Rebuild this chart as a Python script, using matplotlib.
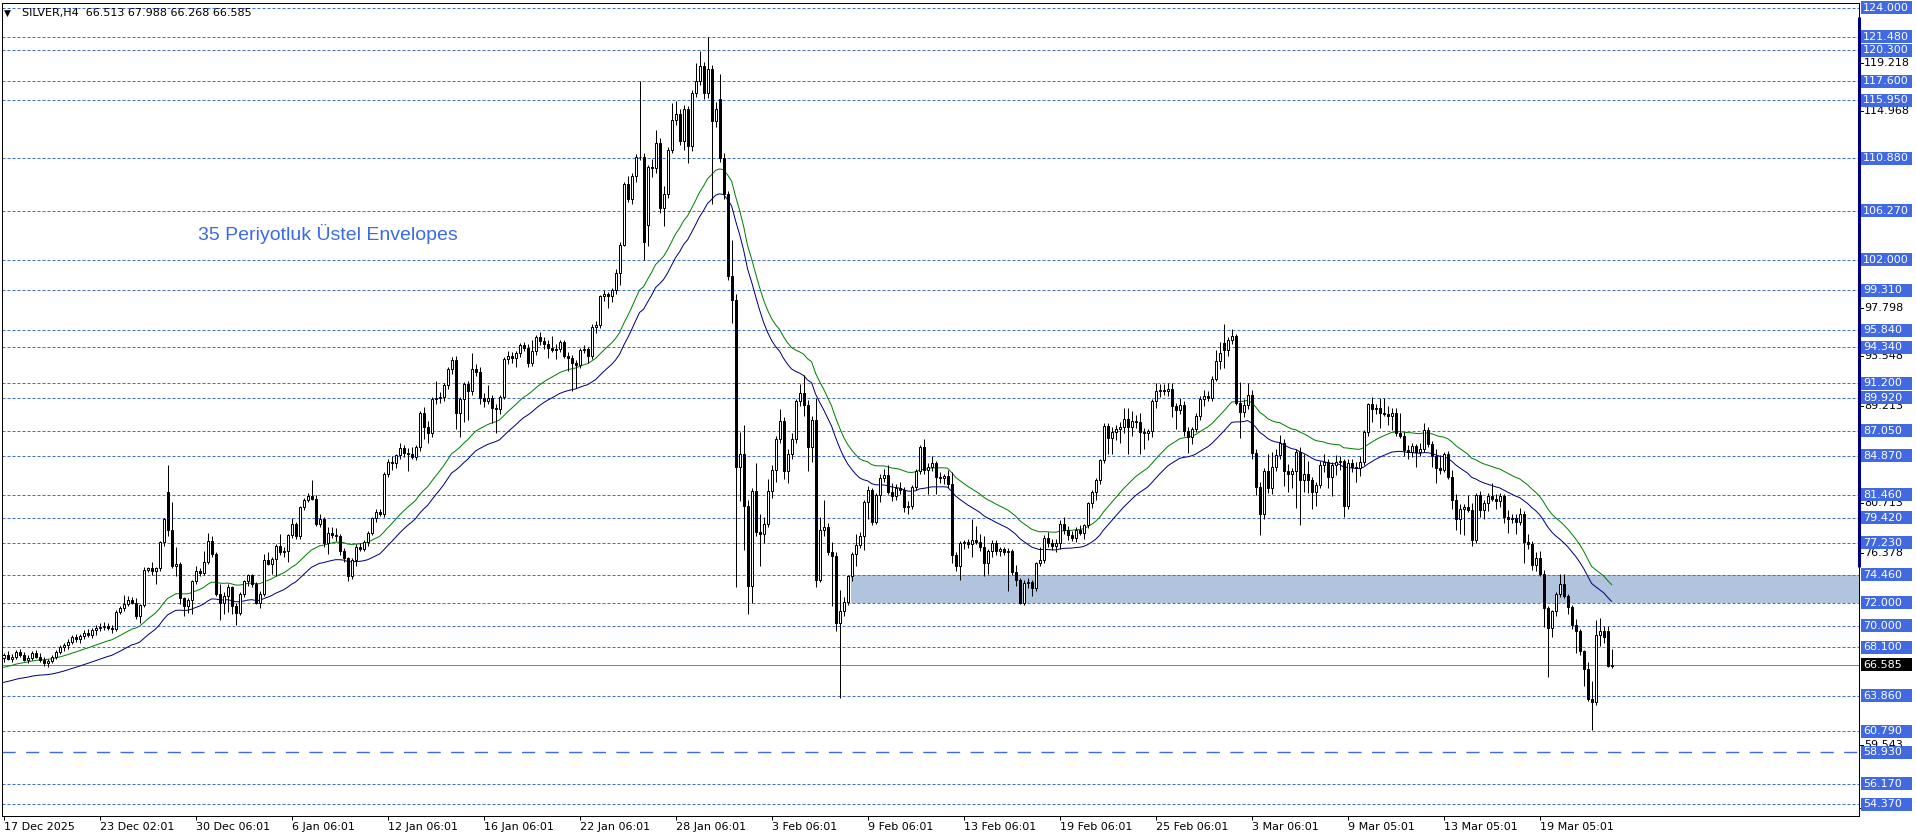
import numpy as np
import matplotlib
matplotlib.use('Agg')
from matplotlib import pyplot as plt
from matplotlib.patches import Rectangle
import matplotlib.transforms as mtransforms

plt.rcParams['font.family'] = ['DejaVu Sans']

# ---- H4 bars (index 0 = 17 Dec 2025) ----
opens = [
    67.2, 67.4, 67.1, 67.3, 67.7, 67.4, 67.0, 67.2, 67.6, 67.3,
    67.0, 66.7, 66.9, 67.3, 67.7, 68.1, 68.3, 68.6, 69.0, 68.8,
    69.1, 69.4, 69.2, 69.6, 69.8, 69.9, 70.0, 69.8, 69.7, 71.2,
    71.5, 71.9, 72.2, 72.0, 70.8, 71.8, 74.9, 75.0, 74.8, 75.0,
    77.3, 81.7, 78.4, 75.2, 75.4, 72.4, 71.7, 72.2, 73.9, 74.8,
    74.6, 75.6, 77.4, 76.3, 72.8, 71.95, 72.6, 73.4, 71.7, 71.1,
    72.8, 73.9, 74.4, 73.6, 72.0, 72.8, 75.7, 75.4, 75.8, 77.0,
    76.4, 76.5, 77.9, 78.9, 77.8, 80.4, 81.0, 81.3, 81.1, 78.9,
    79.3, 77.2, 78.1, 77.9, 77.8, 76.5, 75.9, 74.3, 75.7, 76.9,
    76.7, 77.3, 78.1, 79.4, 79.97, 79.8, 83.3, 84.3, 84.2, 84.9,
    85.5, 85.1, 85.0, 84.7, 85.6, 88.6, 87.4, 86.8, 89.85, 89.9,
    90.0, 91.0, 92.4, 93.2, 88.6, 89.8, 91.1, 90.5, 92.4, 92.2,
    89.9, 89.6, 89.9, 89.05, 88.9, 89.95, 93.3, 93.6, 93.4, 93.8,
    94.5, 94.3, 93.0, 94.0, 95.2, 94.9, 94.6, 94.3, 94.1, 94.2,
    94.8, 93.6, 93.4, 93.0, 92.8, 94.1, 94.2, 93.6, 96.15, 96.3,
    98.8, 99.0, 98.8, 99.3, 100.8, 103.25, 108.6, 107.3, 109.3, 110.95,
    111.0, 105.0, 110.1, 110.0, 112.2, 106.5, 107.7, 111.6, 114.2, 114.7,
    112.4, 115.2, 111.9, 116.6, 117.65, 118.9, 116.6, 118.7, 114.1, 116.0,
    110.9, 107.7, 100.6, 98.5, 83.9, 85.0, 80.5, 73.5, 81.75, 78.2,
    78.0, 78.9, 81.75, 83.6, 86.3, 87.9, 83.5, 85.0, 86.3, 89.6,
    90.3, 89.3, 85.6, 88.0, 74.0, 78.4, 78.6, 76.45, 76.1, 70.2,
    71.3, 72.1, 74.3, 76.3, 77.05, 77.8, 80.8, 81.9, 79.1, 81.4,
    82.9, 83.2, 81.7, 81.3, 82.0, 81.9, 80.4, 80.5, 82.15, 83.5,
    85.6, 83.6, 83.9, 84.2, 83.0, 82.9, 83.1, 82.4, 76.2, 75.2,
    77.2, 77.3, 77.1, 77.5, 77.3, 76.9, 75.5, 76.5, 77.2, 76.5,
    76.7, 76.4, 76.5, 74.7, 74.0, 72.0, 73.7, 73.8, 73.3, 75.45,
    75.7, 77.7, 77.2, 77.0, 77.2, 78.9, 78.4, 77.9, 77.7, 78.4,
    78.1, 78.8, 80.7, 81.7, 82.7, 84.5, 87.45, 86.4, 86.9, 87.2,
    87.4, 88.1, 87.4, 87.9, 87.8, 86.95, 86.8, 87.0, 89.6, 90.5,
    90.6, 90.5, 90.7, 89.2, 88.85, 89.3, 87.0, 86.5, 87.2, 88.3,
    89.8, 90.1, 89.9, 91.6, 93.1, 94.7, 94.1, 95.0, 95.3, 89.5,
    88.7, 89.3, 90.2, 85.06, 82.15, 79.8, 83.5, 82.0, 83.9, 84.9,
    86.0, 83.5, 83.3, 83.5, 85.2, 82.7, 83.3, 82.7, 81.7, 82.3,
    84.0, 84.3, 82.96, 84.0, 84.3, 84.4, 80.5, 84.2, 83.9, 83.8,
    84.3, 86.95, 89.4, 88.9, 89.0, 88.6, 88.5, 88.3, 88.6, 86.8,
    86.6, 85.35, 85.2, 85.7, 85.2, 85.4, 87.1, 85.9, 84.8, 83.75,
    83.6, 85.0, 83.0, 81.0, 79.3, 80.2, 80.4, 80.1, 77.5, 81.4,
    80.1, 80.7, 81.3, 81.1, 80.9, 81.3, 79.5, 79.3, 79.4, 79.1,
    79.8, 77.3, 77.1, 75.3, 75.9, 74.5, 71.5, 69.76, 71.3, 72.8,
    73.6, 72.6, 71.6, 70.05, 69.55, 67.8, 66.2, 63.6, 63.3, 69.2,
    69.5, 69.5, 66.513,
]
highs = [
    67.6, 67.8, 67.5, 67.9, 68.0, 67.7, 67.4, 67.8, 67.9, 67.6,
    67.3, 67.1, 67.4, 67.9, 68.3, 68.5, 68.8, 69.2, 69.3, 69.3,
    69.6, 69.7, 69.8, 70.1, 70.2, 70.3, 70.2, 70.1, 71.4, 71.7,
    72.7, 72.6, 72.5, 72.4, 71.9, 75.1, 75.1, 75.6, 75.1, 77.4,
    79.4, 84.0, 80.8, 76.9, 75.6, 72.5, 72.4, 74.0, 75.2, 75.0,
    76.5, 78.1, 77.8, 76.4, 73.6, 72.9, 73.6, 73.5, 72.0, 72.9,
    74.0, 74.5, 74.5, 73.8, 73.0, 76.3, 76.4, 76.0, 77.1, 78.0,
    76.9, 78.0, 79.4, 79.1, 80.5, 81.2, 81.6, 82.7, 81.4, 79.8,
    79.5, 78.6, 78.6, 78.5, 78.0, 76.8, 76.0, 75.9, 77.1, 77.2,
    77.5, 78.3, 79.5, 80.2, 80.2, 83.4, 84.6, 84.8, 85.0, 86.0,
    85.8, 85.5, 85.6, 85.8, 88.8, 89.1, 87.9, 90.0, 91.4, 90.4,
    91.2, 92.6, 93.5, 93.6, 90.0, 91.3, 91.4, 93.8, 92.9, 92.6,
    90.3, 91.0, 90.2, 89.4, 90.2, 93.5, 94.0, 93.9, 94.0, 94.7,
    94.8, 94.6, 95.0, 95.4, 95.7, 95.2, 95.0, 95.3, 94.6, 95.0,
    95.0, 93.9, 93.7, 93.2, 94.3, 94.5, 94.4, 96.4, 96.6, 98.9,
    99.3, 99.2, 99.5, 101.2, 103.5, 108.8, 109.3, 109.6, 111.2, 117.6,
    111.3, 110.3, 110.8, 113.3, 112.6, 108.4, 111.8, 115.7, 115.9, 115.2,
    115.5, 115.4, 116.8, 119.2, 120.2, 119.3, 121.5, 119.0, 115.8, 118.2,
    111.3, 108.0, 103.7, 99.0, 86.9, 87.5, 81.0, 82.0, 84.2, 79.8,
    79.5, 82.8, 84.0, 86.6, 88.9, 88.2, 85.4, 86.8, 89.8, 91.1,
    91.9, 89.7, 88.3, 89.9, 79.5, 81.0, 79.0, 77.3, 76.4, 73.1,
    72.5, 74.4, 76.4, 78.0, 78.2, 81.0, 82.2, 82.0, 81.6, 83.3,
    83.7, 84.0, 82.5, 82.4, 82.6, 82.1, 80.9, 82.3, 83.7, 85.8,
    86.3, 84.2, 84.8, 84.4, 83.4, 83.3, 83.6, 83.4, 76.4, 77.4,
    77.5, 77.6, 79.3, 78.7, 78.0, 77.8, 76.7, 77.5, 77.5, 76.9,
    76.9, 76.8, 76.7, 75.3, 74.2, 74.0, 74.2, 74.0, 75.6, 76.9,
    77.9, 78.2, 77.6, 77.6, 79.2, 79.5, 78.7, 78.3, 78.6, 78.8,
    78.9, 80.8, 81.9, 82.9, 84.6, 87.7, 87.7, 87.4, 87.5, 87.8,
    89.0, 89.0, 88.8, 88.4, 88.6, 87.3, 87.2, 89.8, 91.2, 91.1,
    91.1, 91.2, 91.2, 89.5, 89.9, 89.6, 87.4, 87.4, 88.6, 90.1,
    90.6, 90.5, 91.8, 94.1, 94.8, 96.4, 95.2, 95.9, 95.5, 91.3,
    89.8, 91.2, 90.6, 85.4, 82.6, 83.8, 85.0, 85.2, 85.4, 86.7,
    86.3, 84.1, 83.8, 85.4, 85.6, 85.0, 84.4, 83.0, 82.6, 84.4,
    85.0, 84.6, 84.3, 84.9, 84.8, 84.6, 84.6, 84.6, 84.3, 84.8,
    87.1, 89.5, 90.0, 89.4, 89.9, 89.9, 89.2, 89.0, 89.0, 88.6,
    86.9, 85.8, 86.0, 85.9, 86.0, 87.7, 87.4, 86.1, 85.4, 84.9,
    85.2, 85.3, 83.6, 81.5, 80.6, 80.6, 81.4, 80.7, 81.6, 81.8,
    81.0, 81.6, 82.5, 81.5, 81.6, 81.5, 80.1, 79.8, 79.8, 80.3,
    80.0, 78.0, 77.4, 76.4, 76.5, 74.9, 71.7, 71.4, 72.9, 74.5,
    74.5, 72.8, 71.8, 70.6, 69.7, 67.9, 66.8, 65.2, 70.5, 70.7,
    70.0, 70.0, 67.988,
]
lows = [
    66.8, 67.0, 66.8, 67.1, 67.3, 66.9, 66.7, 67.0, 67.2, 66.8,
    66.5, 66.4, 66.7, 67.1, 67.5, 67.8, 68.0, 68.4, 68.6, 68.5,
    68.8, 69.0, 68.9, 69.2, 69.5, 69.6, 69.6, 69.4, 69.5, 71.0,
    71.3, 71.7, 71.9, 70.6, 70.2, 71.6, 74.7, 74.4, 73.6, 74.8,
    77.0, 77.8, 75.0, 74.3, 71.9, 70.8, 71.1, 71.0, 73.6, 74.3,
    74.4, 75.4, 76.0, 72.6, 70.5, 71.0, 71.2, 71.0, 70.1, 70.9,
    72.5, 73.5, 73.4, 71.9, 71.5, 72.6, 75.3, 74.5, 74.3, 76.2,
    76.0, 75.6, 77.7, 77.6, 77.6, 80.1, 80.8, 81.0, 78.7, 78.6,
    76.9, 76.3, 77.7, 77.4, 76.2, 75.6, 73.9, 74.1, 75.2, 76.5,
    76.5, 77.0, 77.9, 79.1, 79.6, 79.5, 83.0, 83.6, 83.8, 84.6,
    84.7, 83.5, 84.6, 84.5, 85.3, 86.3, 86.0, 86.5, 89.4, 89.5,
    89.6, 90.7, 92.0, 87.2, 86.5, 87.8, 88.0, 90.2, 91.8, 89.4,
    89.1, 89.4, 87.7, 86.8, 88.5, 89.8, 92.9, 93.0, 92.6, 93.5,
    94.0, 92.6, 92.7, 93.7, 94.5, 94.2, 93.4, 93.9, 93.3, 93.9,
    93.4, 92.3, 90.5, 90.8, 92.5, 93.8, 93.0, 93.3, 95.6, 96.0,
    98.4, 97.8, 98.3, 99.0, 99.8, 103.2, 107.0, 106.9, 108.8, 110.7,
    102.0, 103.2, 109.2, 109.6, 106.1, 104.9, 107.4, 111.3, 113.8, 112.0,
    111.6, 110.4, 111.5, 116.2, 117.3, 116.0, 116.1, 106.9, 113.6, 110.5,
    107.3, 100.2, 96.5, 73.4, 80.9, 76.6, 71.0, 72.0, 77.8, 75.2,
    77.2, 78.6, 81.2, 82.6, 86.0, 82.8, 82.5, 84.6, 86.0, 89.2,
    88.3, 83.5, 84.3, 73.4, 73.8, 77.8, 76.2, 71.7, 69.5, 63.7,
    70.8, 71.8, 73.9, 75.2, 76.8, 76.65, 79.3, 78.8, 78.9, 80.8,
    82.6, 81.5, 80.9, 81.0, 81.5, 79.9, 79.8, 80.2, 81.9, 83.3,
    83.3, 81.5, 83.5, 81.5, 82.5, 82.4, 82.0, 75.5, 74.8, 74.0,
    76.7, 76.8, 76.0, 77.1, 76.5, 74.3, 74.5, 76.0, 76.2, 76.1,
    76.2, 73.0, 74.4, 73.5, 71.9, 71.8, 73.3, 72.6, 73.0, 75.2,
    75.5, 76.9, 76.6, 76.4, 76.7, 78.0, 77.5, 77.4, 77.3, 77.9,
    77.6, 78.5, 80.3, 81.0, 82.4, 84.2, 85.0, 85.0, 86.2, 86.0,
    86.8, 85.0, 86.6, 87.3, 85.0, 85.4, 86.2, 86.5, 89.0, 90.0,
    90.2, 90.1, 88.2, 87.2, 88.5, 86.6, 85.1, 85.9, 86.9, 88.0,
    89.2, 89.6, 89.6, 91.4, 92.4, 92.5, 93.6, 94.6, 89.3, 86.4,
    88.2, 88.9, 84.6, 81.4, 77.9, 79.3, 81.6, 81.5, 83.5, 84.6,
    82.2, 81.7, 82.0, 80.3, 78.8, 81.7, 81.6, 80.2, 80.5, 82.0,
    83.4, 82.0, 81.3, 83.2, 83.6, 79.5, 80.2, 83.4, 82.6, 83.1,
    84.0, 86.6, 87.8, 88.5, 87.3, 88.3, 87.5, 87.1, 86.6, 86.4,
    84.8, 84.6, 84.7, 83.9, 84.8, 85.2, 85.6, 83.9, 82.5, 83.3,
    83.4, 82.8, 80.2, 78.4, 78.0, 77.9, 79.9, 77.0, 77.2, 79.5,
    79.3, 80.0, 80.9, 80.2, 80.4, 79.0, 78.1, 79.0, 78.0, 78.8,
    75.5, 76.7, 74.9, 74.8, 74.3, 69.9, 65.5, 69.0, 70.8, 72.5,
    72.4, 71.0, 69.7, 67.6, 67.4, 64.7, 63.4, 60.9, 63.1, 68.2,
    68.5, 66.4, 66.268,
]
closes = [
    67.4, 67.1, 67.3, 67.7, 67.4, 67.0, 67.2, 67.6, 67.3, 67.0,
    66.7, 66.9, 67.3, 67.7, 68.1, 68.3, 68.6, 69.0, 68.8, 69.1,
    69.4, 69.2, 69.6, 69.8, 69.9, 70.0, 69.8, 69.7, 71.2, 71.5,
    71.9, 72.2, 72.0, 70.8, 71.8, 74.9, 75.0, 74.8, 75.0, 77.3,
    79.3, 78.4, 75.2, 75.4, 72.4, 71.7, 72.2, 73.9, 74.8, 74.6,
    75.6, 77.4, 76.3, 72.8, 71.95, 72.6, 73.4, 71.7, 71.1, 72.8,
    73.9, 74.4, 73.6, 72.0, 72.8, 75.7, 75.4, 75.8, 77.0, 76.4,
    76.5, 77.9, 78.9, 77.8, 80.4, 81.0, 81.3, 81.1, 78.9, 79.3,
    77.2, 78.1, 77.9, 77.8, 76.5, 75.9, 74.3, 75.7, 76.9, 76.7,
    77.3, 78.1, 79.4, 79.97, 79.8, 83.3, 84.3, 84.2, 84.9, 85.5,
    85.1, 85.0, 84.7, 85.6, 88.6, 87.4, 86.8, 89.85, 89.9, 90.0,
    91.0, 92.4, 93.2, 88.6, 89.8, 91.1, 90.5, 92.4, 92.2, 89.9,
    89.6, 89.9, 89.05, 88.9, 89.95, 93.3, 93.6, 93.4, 93.8, 94.5,
    94.3, 93.0, 94.0, 95.2, 94.9, 94.6, 94.3, 94.1, 94.2, 94.8,
    93.6, 93.4, 93.0, 92.8, 94.1, 94.2, 93.6, 96.15, 96.3, 98.8,
    99.0, 98.8, 99.3, 100.8, 103.25, 108.6, 107.3, 109.3, 110.95, 111.0,
    103.5, 110.1, 110.0, 112.2, 106.5, 107.7, 111.6, 114.2, 114.7, 112.4,
    115.2, 111.9, 116.6, 117.65, 118.9, 116.6, 118.7, 114.1, 115.2, 110.9,
    107.7, 100.6, 98.5, 83.9, 85.0, 80.5, 73.5, 81.75, 78.2, 78.0,
    78.9, 81.75, 83.6, 86.3, 87.9, 83.5, 85.0, 86.3, 89.6, 90.3,
    89.3, 85.6, 88.0, 74.0, 78.4, 78.6, 76.45, 76.1, 70.2, 71.3,
    72.1, 74.3, 76.3, 77.05, 77.8, 80.8, 81.9, 79.1, 81.4, 82.9,
    83.2, 81.7, 81.3, 82.0, 81.9, 80.4, 80.5, 82.15, 83.5, 85.6,
    83.6, 83.9, 84.2, 83.0, 82.9, 83.1, 82.4, 76.2, 75.2, 77.2,
    77.3, 77.1, 77.5, 77.3, 76.9, 75.5, 76.5, 77.2, 76.5, 76.7,
    76.4, 76.5, 74.7, 74.0, 72.0, 73.7, 73.8, 73.3, 75.45, 75.7,
    77.7, 77.2, 77.0, 77.2, 78.9, 78.4, 77.9, 77.7, 78.4, 78.1,
    78.8, 80.7, 81.7, 82.7, 84.5, 87.45, 86.4, 86.9, 87.2, 87.4,
    88.1, 87.4, 87.9, 87.8, 86.95, 86.8, 87.0, 89.6, 90.5, 90.6,
    90.5, 90.7, 89.2, 88.85, 89.3, 87.0, 86.5, 87.2, 88.3, 89.8,
    90.1, 89.9, 91.6, 93.1, 93.8, 94.1, 95.0, 95.3, 89.5, 88.7,
    89.3, 90.2, 85.06, 82.15, 79.8, 83.5, 82.0, 83.9, 84.9, 86.0,
    83.5, 83.3, 83.5, 85.2, 82.7, 83.3, 82.7, 81.7, 82.3, 84.0,
    84.3, 82.96, 84.0, 84.3, 84.4, 80.5, 84.2, 83.9, 83.8, 84.3,
    86.95, 89.4, 88.9, 89.0, 88.6, 88.5, 88.3, 88.6, 86.8, 86.6,
    85.35, 85.2, 85.7, 85.2, 85.4, 87.1, 85.9, 84.8, 83.75, 83.6,
    85.0, 83.0, 81.0, 79.3, 80.2, 80.4, 80.1, 77.5, 81.4, 80.1,
    80.7, 81.3, 81.1, 80.9, 81.3, 79.5, 79.3, 79.4, 79.1, 79.8,
    77.3, 77.1, 75.3, 75.9, 74.5, 71.5, 69.76, 71.3, 72.8, 73.6,
    72.6, 71.6, 70.05, 69.55, 67.8, 66.2, 63.6, 63.3, 69.2, 69.5,
    69.0, 66.5, 66.585,
]

tick_labels = ['17 Dec 2025', '23 Dec 02:01', '30 Dec 06:01', '6 Jan 06:01',
               '12 Jan 06:01', '16 Jan 06:01', '22 Jan 06:01', '28 Jan 06:01',
               '3 Feb 06:01', '9 Feb 06:01', '13 Feb 06:01', '19 Feb 06:01',
               '25 Feb 06:01', '3 Mar 06:01', '9 Mar 05:01', '13 Mar 05:01',
               '19 Mar 05:01']
tick_bars = [0, 24, 48, 72, 96, 120, 144, 168, 192, 216, 240, 264, 288, 312,
             336, 360, 384]

levels = [124.000, 121.480, 120.300, 117.600, 115.950, 110.880, 106.270,
          102.000, 99.310, 95.840, 94.340, 91.200, 89.920, 87.050, 84.870,
          81.460, 79.420, 77.230, 74.460, 72.000, 70.000, 68.100, 63.860,
          60.790, 56.170, 54.370]
level_long = 58.930
last_price = 66.585
zone_low, zone_high = 72.000, 74.460
scale_vals = [119.218, 114.968, 97.798, 93.548, 89.213, 80.713, 76.378,
              59.543, 54.058]

ema_period = 35
env_dev = 0.01
ema_start = 65.6

# ---------------------------------------------------------------
o = np.array(opens); h = np.array(highs); l = np.array(lows); c = np.array(closes)
n = len(c)
x = np.arange(n)

# 35 period exponential envelope
ema = np.zeros(n)
prev = ema_start
k = 2.0 / (ema_period + 1)
for i in range(n):
    prev = prev + k * (c[i] - prev)
    ema[i] = prev
upper = ema * (1 + env_dev)
lower = ema * (1 - env_dev)

W, H = 1916, 840
fig = plt.figure(figsize=(W / 100, H / 100), dpi=100)
ax = fig.add_axes([2 / W, 24 / H, 1857 / W, 813 / H])
ax.set_xlim(-0.4, 463.85)
ax.set_ylim(53.36, 124.43)
ppu = 813 / (124.43 - 53.36)  # pixels per price unit

px = 0.72  # one pixel in points
blue = '#4169E1'

# support zone
ax.add_patch(Rectangle((211.8, zone_low), 463.85 - 211.8, zone_high - zone_low,
                       facecolor='#B0C4DE', edgecolor='none', zorder=0.5))

for v in levels:
    ax.axhline(v, color=blue, lw=px, linestyle=(0, (3, 2)), zorder=1)
ax.axhline(level_long, color=blue, lw=1.0, linestyle=(0, (9.5, 7.5)), zorder=1)
ax.axhline(last_price, color='#778899', lw=px, zorder=1)

# envelope
ax.plot(x, upper, color='#008000', lw=px, zorder=2)
ax.plot(x, lower, color='#000080', lw=px, zorder=2)

# candles
ax.vlines(x, l, h, color='black', lw=px, zorder=3)
up = c >= o
bot = np.minimum(o, c)
hgt = np.abs(c - o)
ax.bar(x[up], hgt[up], bottom=bot[up], width=0.55, facecolor='white',
       edgecolor='black', linewidth=px, zorder=4)
ax.bar(x[~up], hgt[~up], bottom=bot[~up], width=0.55, facecolor='black',
       edgecolor='black', linewidth=px, zorder=4)

ax.text(48.6, 104.23, '35 Periyotluk Üstel Envelopes', color='#3A6AE6',
        fontsize=14, va='center', ha='left', zorder=5,
        family=['Liberation Sans', 'DejaVu Sans'])

# axes styling
for sp in ax.spines.values():
    sp.set_color('black')
    sp.set_linewidth(px)
ax.set_yticks([])
ax.set_xticks(tick_bars)
ax.set_xticklabels(tick_labels, fontsize=8, ha='left')
ax.tick_params(axis='x', direction='out', length=3, width=px, pad=1.5,
               colors='black')

# price scale: x in figure pixels, y in price
pt = mtransforms.blended_transform_factory(mtransforms.IdentityTransform(),
                                           ax.transData)
ax.plot([1859, 1859], [123.2, 75.1], transform=pt, color='#000080', lw=2.2,
        clip_on=False, zorder=6, solid_capstyle='butt')

box_h = 13 / ppu
for v in scale_vals:
    ax.plot([1860, 1863], [v, v], transform=pt, color='black', lw=px,
            clip_on=False, zorder=7)
    ax.text(1864, v, f'{v:.3f}', transform=pt, ha='left', va='center',
            fontsize=8, color='black', clip_on=False, zorder=7)


def price_box(v, fc, z):
    ax.add_patch(Rectangle((1861, v - box_h / 2), 51, box_h, transform=pt,
                           facecolor=fc, edgecolor='none', clip_on=False,
                           zorder=z))
    ax.text(1863, v, f'{v:.3f}', transform=pt, ha='left', va='center',
            fontsize=8, color='white', clip_on=False, zorder=z + 0.1)


for v in levels + [level_long]:
    price_box(v, blue, 8)
price_box(last_price, 'black', 9)

# header
fig.text(4 / W, 1 - 13 / H, '\u25bc', fontsize=6.5, va='center', ha='left')
fig.text(22 / W, 1 - 13 / H, 'SILVER,H4  66.513 67.988 66.268 66.585',
         fontsize=8, va='center', ha='left')

fig.savefig('out.png', dpi=100)
